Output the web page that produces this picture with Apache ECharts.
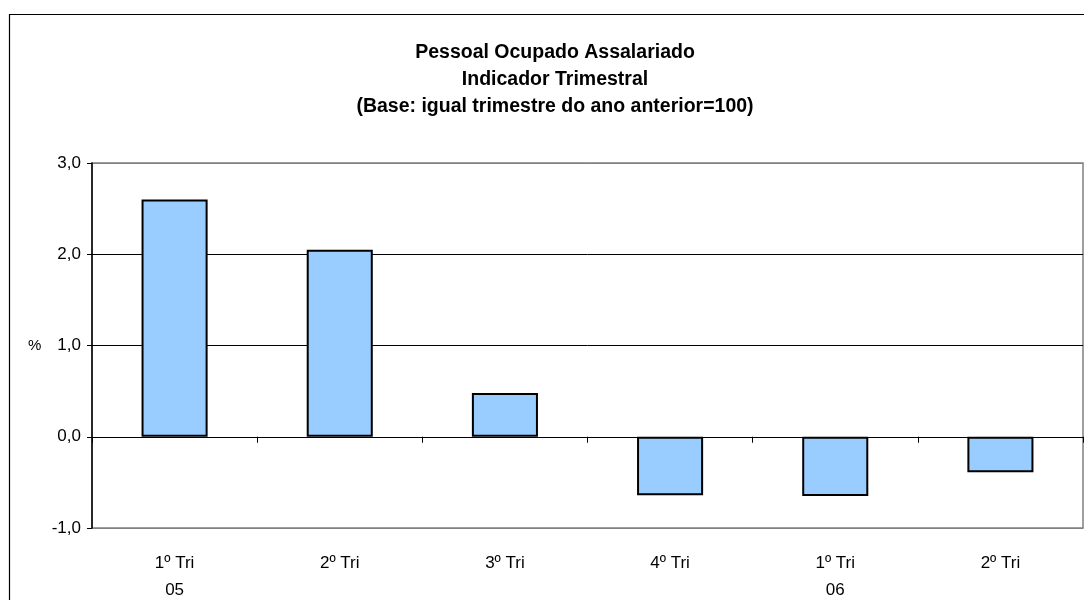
<!DOCTYPE html>
<html>
<head>
<meta charset="utf-8">
<script src="https://cdn.jsdelivr.net/npm/echarts@6/dist/echarts.min.js"></script>
<style>html,body{margin:0;padding:0;background:#fff;}#c{width:1084px;height:600px;}</style>
</head>
<body>
<div id="c"></div>
<script>
const categories = ['1º Tri', '2º Tri', '3º Tri', '4º Tri', '1º Tri', '2º Tri'];
const years = ['05', '', '', '', '06', ''];
const values = [2.60, 2.05, 0.48, -0.64, -0.65, -0.39];
const titleLines = ['Pessoal Ocupado Assalariado', 'Indicador Trimestral', '(Base: igual trimestre do ano anterior=100)'];
const yMin = -1, yMax = 3, yStep = 1;

const labels = categories.map((c, i) => years[i] ? c + '\n' + years[i] : c);
const chart = echarts.init(document.getElementById('c'), null, {renderer: 'canvas'});
const font = 'Arial, "Liberation Sans", sans-serif';
chart.setOption({
  animation: false,
  backgroundColor: '#fff',
  title: {
    text: titleLines.join('\n'),
    left: 555,
    textAlign: 'center',
    top: 39,
    padding: 0,
    textStyle: {fontFamily: font, fontWeight: 'bold', fontSize: 19.5, lineHeight: 27, color: '#000'}
  },
  graphic: [
    {type: 'rect', left: 7, top: 12, shape: {width: 1200, height: 700}, style: {fill: 'none', stroke: '#000', lineWidth: 1.2}, silent: true, z: -1},
    {type: 'text', left: 28, top: 338, style: {text: '%', font: '15px ' + font, fill: '#000'}}
  ],
  grid: {left: 92, right: 1, top: 163, bottom: 72, show: true, borderColor: '#808080', borderWidth: 1.5,
    containLabel: false, outerBoundsMode: 'none'},
  xAxis: [
    {
      type: 'category', data: labels, position: 'bottom',
      axisLine: {show: false, onZero: false}, axisTick: {show: false},
      axisLabel: {fontFamily: font, fontSize: 17, color: '#000', lineHeight: 27, margin: 22}
    },
    {
      type: 'category', data: labels, position: 'bottom',
      axisLine: {show: true, onZero: true, onZeroAxisIndex: 0, lineStyle: {color: '#000', width: 1}},
      axisTick: {show: true, length: 6, lineStyle: {color: '#000'}},
      axisLabel: {show: false}
    }
  ],
  yAxis: {
    type: 'value', min: yMin, max: yMax, interval: yStep,
    axisLine: {show: true, lineStyle: {color: '#000', width: 1.5}},
    axisTick: {show: true, length: 5, lineStyle: {color: '#000'}},
    axisLabel: {fontFamily: font, fontSize: 17, color: '#000', margin: 11,
      formatter: v => v.toFixed(1).replace('.', ',')},
    splitLine: {show: true, lineStyle: {color: ['#808080', '#000', '#000', '#000', '#808080'], width: 1}}
  },
  series: [{
    type: 'bar', data: values, xAxisIndex: 0, barWidth: '40%',
    itemStyle: {color: '#99CCFF', borderColor: '#000', borderWidth: 2}
  }]
});
</script>
</body>
</html>
